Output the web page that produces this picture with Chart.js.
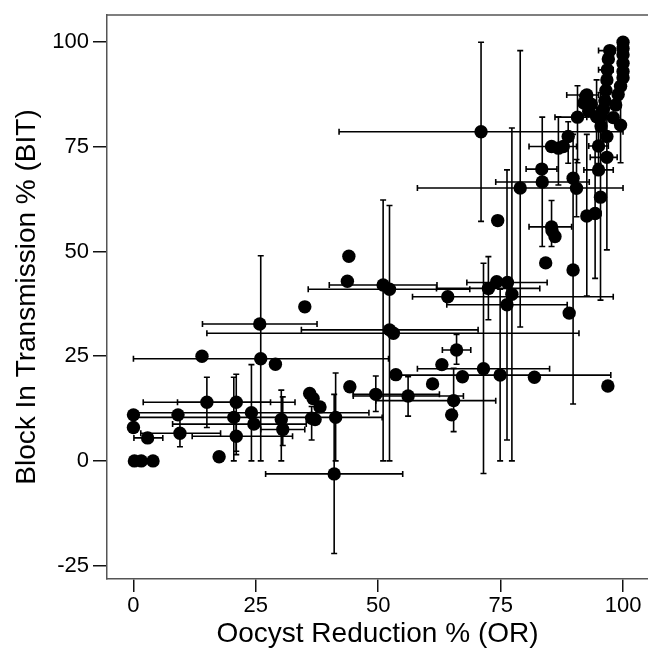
<!DOCTYPE html>
<html>
<head>
<meta charset="utf-8">
<script src="https://cdn.jsdelivr.net/npm/chart.js@4.4.1/dist/chart.umd.min.js"></script>
<style>
  html, body { margin: 0; padding: 0; background: #fff; }
</style>
</head>
<body>
<canvas id="myChart" width="648" height="652"></canvas>
<script>
// oocyst reduction (x) and block in transmission (y), one entry per point
const orValues = [
    0, 0, 0.2, 1.6, 4.0, 2.9, 9.1, 9.5, 14.0, 15.0,
    17.5, 21.0, 20.5, 21.0, 24.1, 24.6, 25.8, 26.0, 29.0, 30.2,
    30.5, 35.0, 36.0, 36.7, 38.1, 36.4, 37.1, 41.3, 41.0, 44.2,
    44.0, 43.7, 51.0, 52.3, 52.3, 53.1, 49.5, 56.1, 53.6, 61.1,
    63.0, 64.2, 66.0, 65.4, 65.0, 67.2, 71.5, 72.5, 74.2, 76.4,
    74.9, 76.3, 77.3, 81.9, 74.4, 71.0, 79.0, 89.0, 96.9, 84.2,
    89.8, 85.4, 85.5, 86.1, 83.4, 83.5, 85.4, 86.8, 88.8, 89.8,
    90.5, 92.6, 94.3, 95.4, 95.0, 96.7, 95.0, 90.7, 92.0, 92.6,
    93.5, 93.0, 94.6, 95.5, 95.5, 96.7, 99.5, 96.0, 96.3, 96.5,
    96.7, 96.8, 97.0, 97.3, 100, 100, 100, 100, 100, 100,
    99.5, 99.0, 98.5, 98.0, 92.4, 87.8
];
const bitValues = [
    11, 8, 0, 0, 0, 5.5, 11, 6.6, 25, 14,
    1, 14, 10.4, 5.9, 11.5, 8.8, 32.7, 24.4, 23.1, 9.9,
    7.5, 36.8, 16.1, 14.9, 12.9, 10.2, 9.9, 10.4, -3.1, 17.7,
    48.9, 42.9, 42, 41, 31.3, 30.5, 15.9, 15.5, 20.6, 18.4,
    23, 39.2, 26.5, 14.4, 11, 20.1, 22, 41.2, 42.8, 42.6,
    20.5, 37.3, 39.8, 20, 57.4, 78.6, 65.2, 35.3, 17.9, 47.3,
    45.6, 55.9, 55, 53.6, 69.7, 66.6, 75.1, 74.7, 77.5, 67.5,
    65.1, 58.5, 59.1, 63, 69.5, 72.5, 75.2, 82.1, 85.5, 87.4,
    85.2, 83.5, 82.2, 82.3, 80, 77.5, 80.2, 84, 86, 88.5,
    91, 93.4, 96, 98, 100, 98.5, 97, 95, 93, 91.5,
    89.5, 87.5, 85, 82, 87.1, 75.1
];
const n = null;
const orLow = [
    n, n, n, n, n, 0.1, n, 1.5, n, 2,
    n, 9, 0, 12, 0, 8, 14.1, 0, n, n,
    26, n, n, n, n, n, n, n, 27, n,
    n, n, 40, 35.7, 34.3, 15, 44.9, 44.9, n, n,
    n, 57, 63.1, 49.5, n, n, 58, 61.9, n, 68.1,
    53.5, 64, n, n, n, 42, 58, n, n, n,
    n, 80.8, n, n, 80.2, 74, 80.8, n, n, n,
    n, n, 92.6, n, 92, 93.3, 93, 86.1, n, 88.5,
    n, n, n, n, n, n, n, n, n, n,
    n, 95, n, 95, n, n, n, n, n, n,
    n, n, n, n, n, n
];
const orHigh = [
    n, n, n, n, n, 6, n, 17.8, n, 33,
    n, 28, 50.8, 32.5, 48.1, 35.3, 37.5, 52.1, n, n,
    35, n, n, n, n, n, n, n, 55, n,
    n, n, 62, 68.7, 70.4, 91, 62.5, 67.4, n, n,
    n, 98, 68.9, 74, n, n, 85, 83, n, 84.5,
    97.5, 88.6, n, n, n, 100, 100, n, n, n,
    n, 89.5, n, n, 86.5, 93.1, 90.5, n, n, n,
    n, n, 95.5, n, 98, 98.8, 97, 92.6, n, 95,
    n, n, n, n, n, n, n, n, n, n,
    n, 98, n, 98.4, n, n, n, n, n, n,
    n, n, n, n, n, n
];
const bitLow = [
    n, n, n, n, n, 4.3, n, 3.4, n, 8,
    n, 1.5, 0, 2.3, 0, n, n, 0, n, 0,
    3.7, n, n, n, n, 5, n, 0, -22.1, n,
    n, n, 0, 0, n, n, 11.8, 10.7, n, n,
    n, n, 23.1, 7, n, n, -3, 33.7, n, n,
    0, 5, 0, n, n, 57.2, 32, n, n, n,
    13.6, 51.2, n, n, n, 51.2, n, 65.9, 71.1, n,
    58.3, 39.4, 43.6, 38.4, n, 50.4, 71, 71.2, n, n,
    n, n, 75, n, n, n, 71.2, n, n, n,
    n, n, n, n, n, n, n, n, n, n,
    n, n, n, n, n, n
];
const bitHigh = [
    n, n, n, n, n, 6.7, n, 11, n, 20,
    n, 20.7, 20, 9.5, 23, n, n, 49, n, 16.9,
    15.3, n, n, n, n, 13, n, 21, 15.9, n,
    n, n, 62.3, 61, n, n, 20.3, 20.1, n, n,
    n, n, 30.2, 22.1, n, n, 47.2, 48.8, n, n,
    41, 69.5, 79.5, n, n, 100, 98, n, n, n,
    78, 62.2, n, n, n, 82.1, n, 82.2, 81, n,
    72, 78, 75, 88, n, 87, 79, 89.6, n, n,
    n, n, 91, n, n, n, 87, n, n, n,
    n, n, n, n, n, n, n, n, n, n,
    n, n, n, n, n, n
];
const xTicks = [0, 25, 50, 75, 100];
const yTicks = [-25, 0, 25, 50, 75, 100];

const fontFamily = '"Liberation Sans", Arial, sans-serif';

// whiskers drawn under the dots, placed with the chart's scales
const errorBars = {
    id: 'errorBars',
    beforeDatasetsDraw(chart) {
        const { ctx, scales: { x, y } } = chart;
        const cap = 3;
        ctx.save();
        ctx.strokeStyle = '#000';
        ctx.lineWidth = 1.6;
        orValues.forEach((v, i) => {
            const px = x.getPixelForValue(v);
            const py = y.getPixelForValue(bitValues[i]);
            ctx.beginPath();
            if (orLow[i] !== null) {
                const a = x.getPixelForValue(orLow[i]);
                const b = x.getPixelForValue(orHigh[i]);
                ctx.moveTo(a, py); ctx.lineTo(b, py);
                ctx.moveTo(a, py - cap); ctx.lineTo(a, py + cap);
                ctx.moveTo(b, py - cap); ctx.lineTo(b, py + cap);
            }
            if (bitLow[i] !== null) {
                const a = y.getPixelForValue(bitLow[i]);
                const b = y.getPixelForValue(bitHigh[i]);
                ctx.moveTo(px, a); ctx.lineTo(px, b);
                ctx.moveTo(px - cap, a); ctx.lineTo(px + cap, a);
                ctx.moveTo(px - cap, b); ctx.lineTo(px + cap, b);
            }
            ctx.stroke();
        });
        ctx.restore();
    }
};

// top edge of the frame
const topFrame = {
    id: 'topFrame',
    afterDraw(chart) {
        const { ctx, chartArea } = chart;
        ctx.save();
        ctx.strokeStyle = '#555';
        ctx.lineWidth = 1.5;
        ctx.beginPath();
        ctx.moveTo(chartArea.left, chartArea.top);
        ctx.lineTo(chartArea.right, chartArea.top);
        ctx.stroke();
        ctx.restore();
    }
};

const ctx = document.getElementById('myChart');

new Chart(ctx, {
    type: 'scatter',
    data: {
        datasets: [{
            data: orValues.map((v, i) => ({ x: v, y: bitValues[i] })),
            backgroundColor: '#000',
            borderWidth: 0,
            pointRadius: 6.7,
            pointHoverRadius: 6.7,
            clip: false
        }]
    },
    options: {
        responsive: false,
        animation: false,
        layout: { autoPadding: false, padding: { top: 15, right: 0, bottom: 0, left: 0 } },
        plugins: {
            legend: { display: false },
            tooltip: { enabled: false }
        },
        scales: {
            x: {
                type: 'linear',
                min: -5.4,
                max: 105.1,
                afterBuildTicks: s => { s.ticks = xTicks.map(v => ({ value: v })); },
                afterFit: s => { s.height = 73; s.paddingLeft = 0; s.paddingRight = 0; },
                grid: { drawOnChartArea: false, drawTicks: true, tickLength: 13, color: '#111', lineWidth: 1.5 },
                border: { display: true, color: '#555', width: 1.5 },
                ticks: { color: '#000', padding: 1, maxRotation: 0, font: { family: fontFamily, size: 22 } },
                title: {
                    display: true,
                    text: 'Oocyst Reduction % (OR)',
                    color: '#000',
                    font: { family: fontFamily, size: 28 },
                    padding: { top: 0, bottom: 1 }
                }
            },
            y: {
                type: 'linear',
                min: -28.2,
                max: 106.5,
                afterBuildTicks: s => { s.ticks = yTicks.map(v => ({ value: v })); },
                afterFit: s => { s.width = 107; s.paddingTop = 0; s.paddingBottom = 0; },
                grid: { drawOnChartArea: false, drawTicks: true, tickLength: 14, color: '#111', lineWidth: 1.5 },
                border: { display: true, color: '#555', width: 1.5 },
                ticks: { color: '#000', padding: 4, font: { family: fontFamily, size: 22 } },
                title: {
                    display: true,
                    text: 'Block In Transmission % (BIT)',
                    color: '#000',
                    font: { family: fontFamily, size: 28 },
                    padding: { top: 10, bottom: 0 }
                }
            }
        }
    },
    plugins: [errorBars, topFrame]
});
</script>
</body>
</html>
